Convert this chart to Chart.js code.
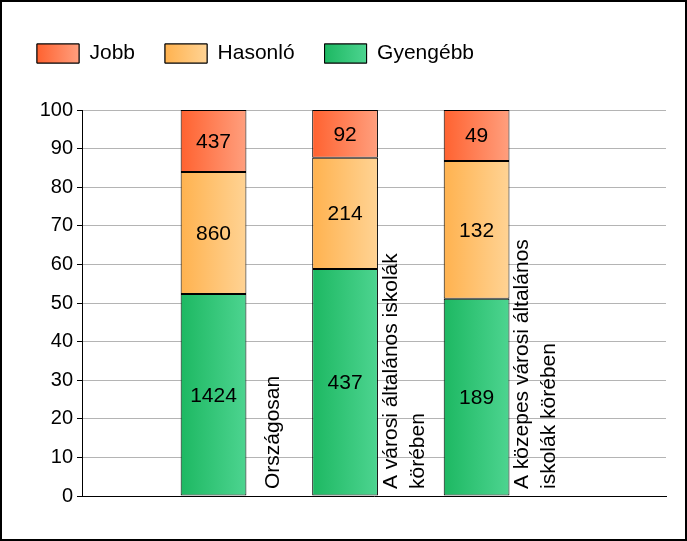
<!DOCTYPE html>
<html>
<head>
<meta charset="utf-8">
<script src="https://cdn.jsdelivr.net/npm/chart.js@4"></script>
<style>
  html, body { margin: 0; padding: 0; background: #fff; }
</style>
</head>
<body>
<canvas id="chart" width="687" height="541"></canvas>
<script>
// Kategóriák (sortörésekkel, ahogy a képen)
const categories = [
  ["Országosan"],
  ["A városi általános iskolák", "körében"],
  ["A közepes városi általános", "iskolák körében"],
];
// Tanulói létszámok kategóriánként
const gyengebb = [1424, 437, 189];
const hasonlo = [860, 214, 132];
const jobb = [437, 92, 49];
const yTickValues = [0, 10, 20, 30, 40, 50, 60, 70, 80, 90, 100];

const FONT = "'Liberation Sans', Arial, sans-serif";
const TEXT_SIZE = 21;
const barPct = 0.5;

// 100%-os halmozás: arány a kategória összlétszámához
const totals = categories.map((c, i) => gyengebb[i] + hasonlo[i] + jobb[i]);
function toPoints(counts) {
  return counts.map((v, i) => ({ x: i + 1, y: (v / totals[i]) * 100 }));
}

function barGradient(dark, light) {
  return (ctx) => {
    const chart = ctx.chart;
    const xs = chart.scales.x;
    if (ctx.type !== "data" || !xs || !chart.chartArea) return dark;
    const unit = xs.getPixelForValue(1) - xs.getPixelForValue(0);
    const cx = xs.getPixelForValue(ctx.parsed.x);
    const half = (unit * barPct) / 2;
    const g = chart.ctx.createLinearGradient(cx - half, 0, cx + half, 0);
    g.addColorStop(0, dark);
    g.addColorStop(1, light);
    return g;
  };
}

const fills = [
  ["#1db862", "#4dd490"], // Gyengébb
  ["#ffb24f", "#ffd394"], // Hasonló
  ["#ff6230", "#ff9f7e"], // Jobb
];

const datasets = [
  { label: "Gyengébb", counts: gyengebb, data: toPoints(gyengebb) },
  { label: "Hasonló", counts: hasonlo, data: toPoints(hasonlo) },
  { label: "Jobb", counts: jobb, data: toPoints(jobb) },
].map((d, i) => ({
  ...d,
  backgroundColor: barGradient(fills[i][0], fills[i][1]),
  borderColor: "#000",
  borderWidth: 1,
  borderSkipped: false,
  barPercentage: barPct,
  categoryPercentage: 1,
  clip: false,
}));

// Felirat a szegmensek közepére
const valueLabels = {
  id: "valueLabels",
  afterDatasetsDraw(chart) {
    const c = chart.ctx;
    c.save();
    c.font = TEXT_SIZE + "px " + FONT;
    c.fillStyle = "#000";
    c.textAlign = "center";
    c.textBaseline = "middle";
    chart.data.datasets.forEach((ds, di) => {
      chart.getDatasetMeta(di).data.forEach((bar, i) => {
        c.fillText(String(ds.counts[i]), bar.x, (bar.y + bar.base) / 2 + 1);
      });
    });
    c.restore();
  },
};

// Függőleges kategórianevek az oszlopok jobb oldalán
const categoryLabels = {
  id: "categoryLabels",
  afterDatasetsDraw(chart) {
    const c = chart.ctx;
    const xs = chart.scales.x;
    const unit = xs.getPixelForValue(1) - xs.getPixelForValue(0);
    const bottom = chart.chartArea.bottom;
    c.save();
    c.font = TEXT_SIZE + "px " + FONT;
    c.fillStyle = "#000";
    c.textAlign = "left";
    c.textBaseline = "middle";
    categories.forEach((lines, i) => {
      const cx = xs.getPixelForValue(i + 1) + unit * 0.45;
      c.save();
      c.translate(cx, bottom - 7);
      c.rotate(-Math.PI / 2);
      lines.forEach((line, j) => {
        c.fillText(line, 0, (j - (lines.length - 1) / 2) * 27);
      });
      c.restore();
    });
    c.restore();
  },
};

// Színátmenetes jelmagyarázat-dobozok és keret
const finish = {
  id: "finish",
  beforeUpdate(chart) {
    const lg = chart.legend;
    if (lg && !lg._padFix) {
      const fit = lg.fit;
      lg.fit = function () {
        fit.call(this);
        this.height += 36;
      };
      lg._padFix = true;
    }
  },
  afterDraw(chart) {
    const c = chart.ctx;
    const lg = chart.legend;
    c.save();
    lg.legendHitBoxes.forEach((hb, i) => {
      const di = lg.legendItems[i].datasetIndex;
      const w = 42, h = 19;
      const x = hb.left, y = hb.top + Math.max((TEXT_SIZE - h) / 2, 0);
      const g = c.createLinearGradient(x, 0, x + w, 0);
      g.addColorStop(0, fills[di][0]);
      g.addColorStop(1, fills[di][1]);
      c.fillStyle = g;
      c.fillRect(x, y, w, h);
      c.strokeStyle = "#000";
      c.lineWidth = 1;
      c.strokeRect(x, y, w, h);
    });
    c.strokeStyle = "#000";
    c.lineWidth = 2;
    c.strokeRect(1, 1, chart.width - 2, chart.height - 2);
    c.restore();
  },
};

new Chart(document.getElementById("chart"), {
  type: "bar",
  data: { datasets },
  options: {
    responsive: false,
    animation: false,
    layout: { padding: { left: 7, top: 13, right: 21, bottom: 45 } },
    plugins: {
      tooltip: { enabled: false },
      legend: {
        position: "top",
        align: "start",
        reverse: true,
        labels: {
          boxWidth: 42,
          boxHeight: 19,
          padding: 30,
          color: "#000",
          font: { family: FONT, size: TEXT_SIZE },
        },
      },
    },
    scales: {
      x: {
        type: "linear",
        stacked: true,
        offset: false,
        min: 0,
        max: 4.44,
        afterBuildTicks(s) { s.ticks = categories.map((c, i) => ({ value: i + 1 })); },
        grid: { display: false },
        ticks: { display: false },
        border: { display: true, color: "#000", width: 1 },
        afterFit(s) { s.height = 0; },
      },
      y: {
        stacked: true,
        min: 0,
        max: 100,
        afterBuildTicks(s) { s.ticks = yTickValues.map((v) => ({ value: v })); },
        afterFit(s) { s.width = 75; },
        grid: { color: "#b4b4b4", tickColor: "#000", tickLength: 5 },
        border: { color: "#000", width: 1 },
        ticks: { color: "#000", padding: 4, font: { family: FONT, size: 20 } },
      },
    },
  },
  plugins: [valueLabels, categoryLabels, finish],
});
</script>
</body>
</html>
